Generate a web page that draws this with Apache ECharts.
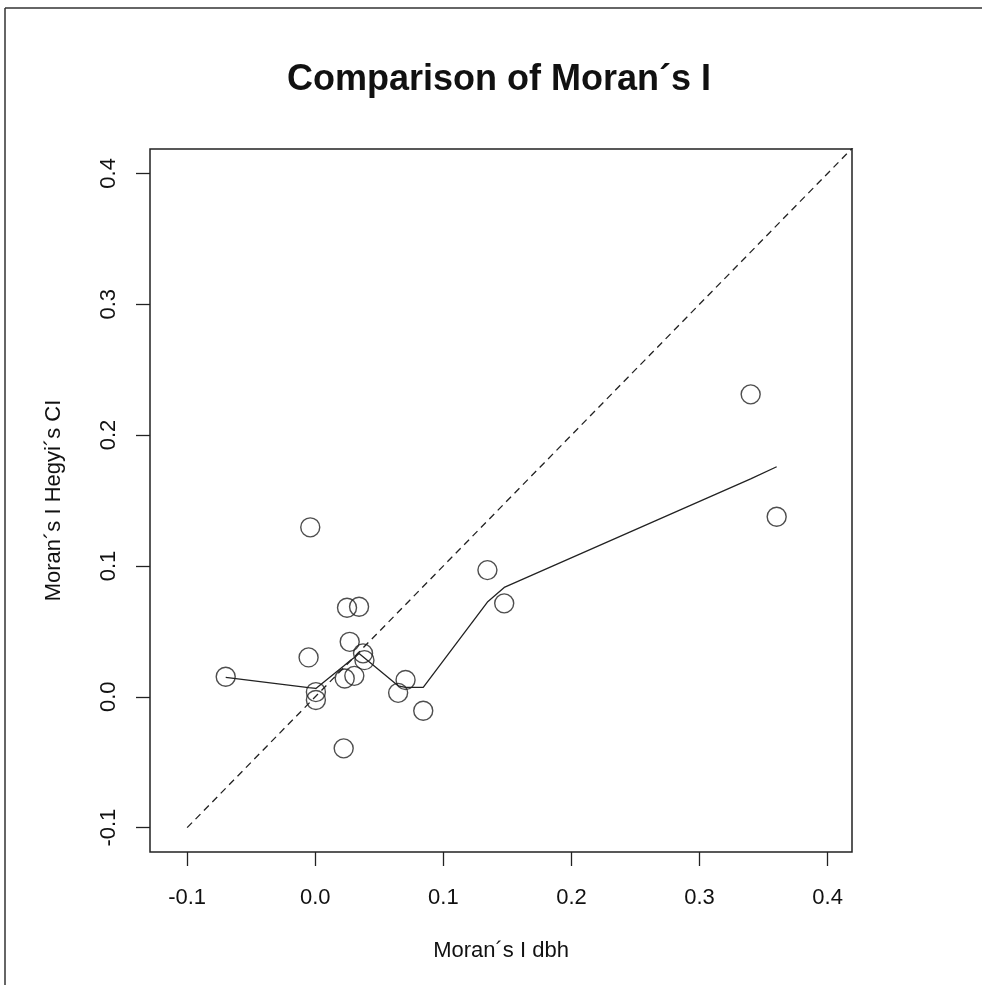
<!DOCTYPE html>
<html>
<head>
<meta charset="utf-8">
<title>Comparison of Moran´s I</title>
<script src="https://cdn.jsdelivr.net/npm/echarts@6/dist/echarts.min.js"></script>
<style>
  html, body { margin: 0; padding: 0; background: #fff; }
  #chart { width: 982px; height: 985px; }
</style>
</head>
<body>
<div id="chart"></div>
<script>
// Moran's I dbh (x) vs Moran's I Hegyi's CI (y)
var moranDbh   = [-0.0699, -0.0039, -0.0052, 0.0005, 0.0005, 0.0248, 0.0342, 0.0269, 0.0373, 0.0384,
                  0.0230, 0.0305, 0.0222, 0.0705, 0.0647, 0.0843, 0.1344, 0.1475, 0.3399, 0.3602];
var moranHegyi = [0.0153, 0.1295, 0.0301, 0.0036, -0.0025, 0.0680, 0.0688, 0.0420, 0.0332, 0.0280,
                  0.0140, 0.0160, -0.0394, 0.0128, 0.0030, -0.0107, 0.0968, 0.0714, 0.2311, 0.1376];

// smoothed curve (lowess), read at the sorted x values
var smoothX = [-0.0699, -0.0052, -0.0039, 0.0005, 0.0222, 0.0230, 0.0248, 0.0269, 0.0305, 0.0342,
               0.0373, 0.0384, 0.0647, 0.0705, 0.0843, 0.1344, 0.1475, 0.3399, 0.3602];
var smoothY = [0.0148, 0.0070, 0.0069, 0.0064, 0.0236, 0.0243, 0.0257, 0.0274, 0.0301, 0.0330,
               0.0306, 0.0297, 0.0084, 0.0072, 0.0072, 0.0724, 0.0836, 0.1665, 0.1758];

// 1:1 reference line
var refX = [-0.1, 0.42];
var refY = [-0.1, 0.42];

var xTicks = [-0.1, 0, 0.1, 0.2, 0.3, 0.4];
var yTicks = [-0.1, 0, 0.1, 0.2, 0.3, 0.4];

var FONT = '"Liberation Sans", Arial, Helvetica, sans-serif';
var INK = '#222';

var chart = echarts.init(document.getElementById('chart'), null, { renderer: 'canvas' });

var points = moranDbh.map(function (x, i) { return [x, moranHegyi[i]]; });
var smooth = smoothX.map(function (x, i) { return [x, smoothY[i]]; });
var ref = refX.map(function (x, i) { return [x, refY[i]]; });

function fmt(v) { return (Math.abs(v) < 1e-9 ? 0 : v).toFixed(1); }

chart.setOption({
  animation: false,
  backgroundColor: '#fff',
  graphic: [
    { type: 'line', shape: { x1: 5, y1: 8, x2: 982, y2: 8 }, style: { stroke: '#333', lineWidth: 1.5 } },
    { type: 'line', shape: { x1: 5, y1: 8, x2: 5, y2: 985 }, style: { stroke: '#333', lineWidth: 1.5 } },
    {
      type: 'text', x: 499, y: 80,
      style: {
        text: 'Comparison of Moran´s I', font: 'bold 36px ' + FONT, fill: '#111',
        textAlign: 'center', textVerticalAlign: 'middle'
      }
    }
  ],
  grid: {
    left: 150, top: 149, width: 702, height: 703,
    show: true, borderColor: INK, borderWidth: 1.5, backgroundColor: 'transparent'
  },
  xAxis: {
    type: 'value', min: -0.129, max: 0.419,
    name: 'Moran´s I dbh', nameLocation: 'middle', nameGap: 88,
    nameTextStyle: { fontFamily: FONT, fontSize: 22, color: '#111' },
    splitLine: { show: false },
    axisLine: { show: false, onZero: false },
    axisTick: { show: true, length: 14, customValues: xTicks, lineStyle: { color: INK, width: 1.3 } },
    axisLabel: { customValues: xTicks, formatter: fmt, margin: 35, fontFamily: FONT, fontSize: 22, color: '#111' }
  },
  yAxis: {
    type: 'value', min: -0.1186, max: 0.4186,
    name: 'Moran´s I Hegyi´s CI', nameLocation: 'middle', nameGap: 85,
    nameTextStyle: { fontFamily: FONT, fontSize: 22, color: '#111' },
    splitLine: { show: false },
    axisLine: { show: false, onZero: false },
    axisTick: { show: true, length: 14, customValues: yTicks, lineStyle: { color: INK, width: 1.3 } },
    axisLabel: { customValues: yTicks, formatter: fmt, rotate: 90, margin: 30, fontFamily: FONT, fontSize: 22, color: '#111' }
  },
  series: [
    {
      type: 'line', data: ref, symbol: 'none', clip: true, silent: true,
      lineStyle: { color: INK, width: 1.3, type: [7, 5] }
    },
    {
      type: 'line', data: smooth, symbol: 'none', clip: true, silent: true,
      lineStyle: { color: INK, width: 1.3 }
    },
    {
      type: 'scatter', data: points, symbol: 'circle', symbolSize: 19,
      itemStyle: { color: 'transparent', borderColor: INK, borderWidth: 1.4 }
    }
  ]
});
</script>
</body>
</html>
